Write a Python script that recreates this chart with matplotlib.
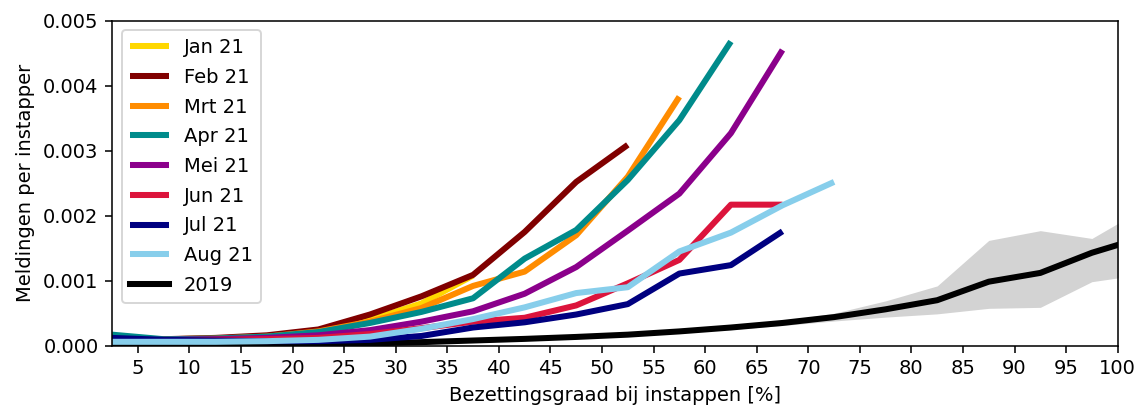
import numpy as np
import matplotlib
matplotlib.use("Agg")
import matplotlib.pyplot as plt

# ---- data (values in 1e-3 "Meldingen per instapper") ----
bins = [2.5 + 5 * i for i in range(21)]  # bin centres 2.5 ... 102.5

months = ["Jan 21", "Feb 21", "Mrt 21", "Apr 21", "Mei 21", "Jun 21", "Jul 21", "Aug 21"]
jan = [0.10, 0.10, 0.11, 0.14, 0.22, 0.40, 0.65, 1.08]
feb = [0.11, 0.10, 0.12, 0.16, 0.25, 0.48, 0.76, 1.09, 1.75, 2.52, 3.09]
mrt = [0.12, 0.10, 0.11, 0.14, 0.22, 0.37, 0.58, 0.92, 1.14, 1.70, 2.60, 3.83]
apr = [0.17, 0.10, 0.11, 0.14, 0.21, 0.35, 0.52, 0.73, 1.34, 1.78, 2.55, 3.47, 4.68]
mei = [0.09, 0.09, 0.10, 0.12, 0.16, 0.24, 0.37, 0.53, 0.80, 1.21, 1.77, 2.34, 3.27, 4.55]
jun = [0.08, 0.08, 0.09, 0.10, 0.12, 0.18, 0.27, 0.37, 0.43, 0.62, 0.96, 1.32, 2.17, 2.17]
jul = [0.12, 0.09, 0.08, 0.07, 0.07, 0.09, 0.15, 0.28, 0.36, 0.48, 0.64, 1.11, 1.24, 1.76]
aug = [0.06, 0.06, 0.06, 0.07, 0.09, 0.14, 0.26, 0.41, 0.59, 0.81, 0.90, 1.45, 1.74, 2.16, 2.52]
month_values = [jan, feb, mrt, apr, mei, jun, jul, aug]
month_colors = ["#FFD700", "#800000", "#FF8C00", "#008B8B", "#8B008B", "#DC143C", "#000080", "#87CEEB"]

y2019 = [0.0, 0.0, 0.0, 0.005, 0.015, 0.035, 0.055, 0.08, 0.105, 0.135, 0.17,
         0.22, 0.28, 0.35, 0.44, 0.56, 0.70, 0.985, 1.12, 1.43, 1.67]
y2019_low = [0.0, 0.0, 0.0, 0.0, 0.01, 0.03, 0.05, 0.075, 0.10, 0.125, 0.16,
             0.20, 0.25, 0.31, 0.38, 0.44, 0.49, 0.575, 0.59, 0.985, 1.10]
y2019_high = [0.0, 0.0, 0.0, 0.01, 0.02, 0.04, 0.06, 0.085, 0.11, 0.145, 0.185,
              0.24, 0.30, 0.38, 0.50, 0.69, 0.92, 1.62, 1.77, 1.65, 2.11]

xticks = list(range(5, 101, 5))
yticks = [0.0, 0.001, 0.002, 0.003, 0.004, 0.005]

scale = 1e-3

plt.rcParams['font.family'] = ['DejaVu Sans']
plt.rcParams['font.size'] = 10

DPI = 140
fig = plt.figure(figsize=(1144 / DPI, 406 / DPI), dpi=DPI)
ax = fig.add_axes([0.098, 0.1485, 0.879, 0.8005])

lw = 3.1
for name, vals, col in zip(months, month_values, month_colors):
    ax.plot(bins[:len(vals)], np.array(vals) * scale, color=col, lw=lw, label=name,
            solid_capstyle='butt', zorder=2)

ax.fill_between(bins, np.array(y2019_low) * scale, np.array(y2019_high) * scale,
                color="#D3D3D3", lw=0, zorder=1)
ax.plot(bins, np.array(y2019) * scale, color="black", lw=lw, label="2019", zorder=1.5)

ax.set_xlim(2.5, 100)
ax.set_ylim(0, 0.005)
ax.set_xticks(xticks)
ax.set_yticks(yticks)
ax.set_yticklabels([f"{v:.3f}" for v in yticks])
ax.set_xlabel("Bezettingsgraad bij instappen [%]")
ax.set_ylabel("Meldingen per instapper")

leg = ax.legend(loc="upper left", handlelength=2.0, labelspacing=0.55)
for h in leg.get_lines():
    h.set_linewidth(lw)

fig.savefig("out.png", dpi=DPI)
